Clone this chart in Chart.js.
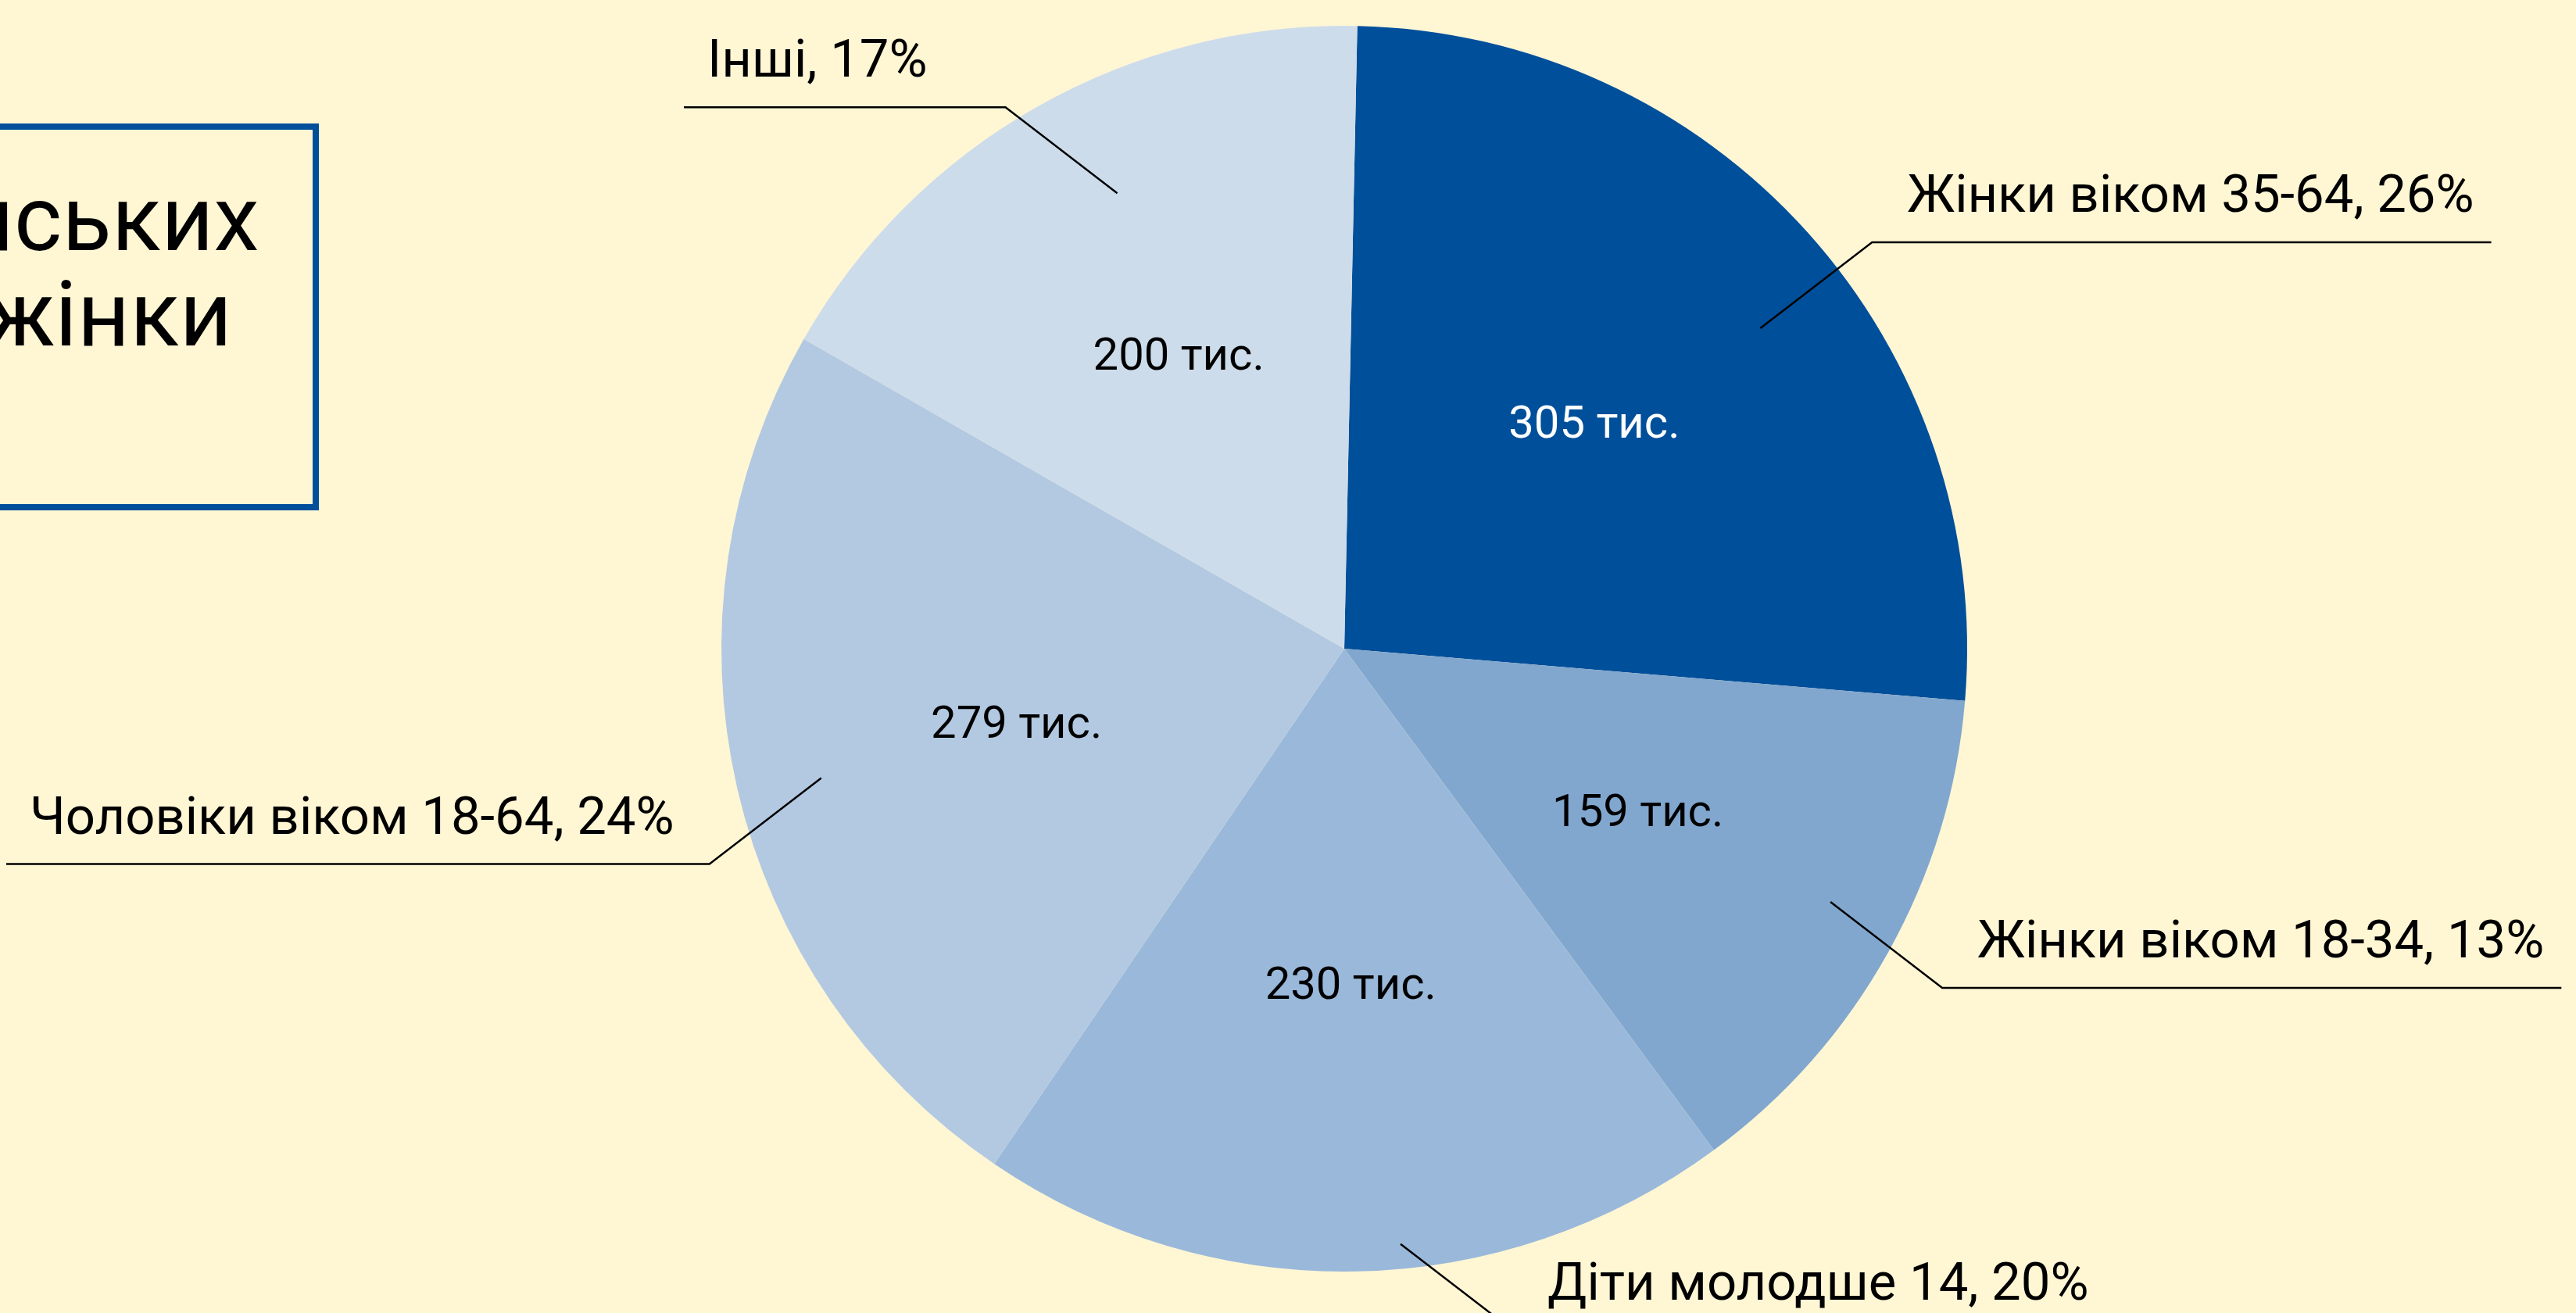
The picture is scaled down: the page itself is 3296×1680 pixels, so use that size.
<!DOCTYPE html>
<html lang="uk">

<head>
    <meta charset="UTF-8">
    <title>Біженці з України</title>
    <script src="https://cdn.jsdelivr.net/npm/chart.js"></script>
    <style>
        html, body { margin: 0; padding: 0; background: #FFF6D4; overflow: hidden; }
        #wrap { position: relative; width: 3296px; height: 1680px; }
        #titleBox {
            position: absolute; left: -700px; top: 158px;
            width: 1108px; height: 495px; box-sizing: border-box;
            border: 8px solid #004F9B; padding-top: 53px;
            font-family: Roboto, sans-serif; font-size: 117px; line-height: 122px; color: #000;
            white-space: nowrap;
        }
        #titleBox div { text-align: right; }
    </style>
</head>

<body>
<div id="wrap">
    <canvas id="pieChart" width="3296" height="1680"></canvas>
    <div id="titleBox">
        <div style="padding-right:72px">Серед українських</div>
        <div style="padding-right:103px">біженців – жінки</div>
    </div>
</div>

<script>
    // data (clockwise from top)
    var groups = ['Жінки віком 35-64', 'Жінки віком 18-34', 'Діти молодше 14', 'Чоловіки віком 18-64', 'Інші'];
    var thousands = [305, 159, 230, 279, 200];
    var shares = [26, 13, 20, 24, 17];

    var sliceColors = ['#004F9B', '#81A7CF', '#9AB9DA', '#B3C9E2', '#CDDCEB'];
    var valueColors = ['#FFFFFF', '#000000', '#000000', '#000000', '#000000'];
    // leader line start: fraction of radius, angle nudge in degrees
    var leaderRadius = [0.843, 0.88, 0.96, 0.865, 0.817];
    var leaderNudge = [4.4, -1.7, -4.3, -0.9, 3.0];

    var labelPlugin = {
        id: 'pieLabels',
        afterDatasetsDraw: function (chart) {
            var ctx = chart.ctx;
            var arcs = chart.getDatasetMeta(0).data;
            ctx.save();
            arcs.forEach(function (arc, i) {
                var p = arc.getProps(['x', 'y', 'startAngle', 'endAngle', 'outerRadius'], true);
                var mid = (p.startAngle + p.endAngle) / 2;

                // value inside the slice
                var r1 = p.outerRadius * 0.54;
                ctx.font = '58px Roboto';
                ctx.fillStyle = valueColors[i];
                ctx.textAlign = 'center';
                ctx.textBaseline = 'middle';
                ctx.fillText(thousands[i] + ' тис.', p.x + r1 * Math.cos(mid), p.y + r1 * Math.sin(mid) + 3);

                // leader line and outside label
                var a = mid + leaderNudge[i] * Math.PI / 180;
                var r2 = p.outerRadius * leaderRadius[i];
                var sx = p.x + r2 * Math.cos(a);
                var sy = p.y + r2 * Math.sin(a);
                var right = Math.cos(mid) >= 0;
                var down = Math.sin(mid) >= 0;
                var ex = sx + (right ? 143 : -143);
                var ey = sy + (down ? 110 : -110);

                var text = groups[i] + ', ' + shares[i] + '%';
                ctx.font = '67px Roboto';
                var w = ctx.measureText(text).width;
                var tx, lineEnd;
                if (right) {
                    tx = ex + 45;
                    lineEnd = tx + w + 22;
                } else {
                    tx = Math.max(ex - 100 - w, 38);
                    lineEnd = tx - 30;
                }

                ctx.strokeStyle = '#000';
                ctx.lineWidth = 2.5;
                ctx.beginPath();
                ctx.moveTo(sx, sy);
                ctx.lineTo(ex, ey);
                ctx.lineTo(lineEnd, ey);
                ctx.stroke();

                ctx.fillStyle = '#000';
                ctx.textAlign = 'left';
                ctx.textBaseline = 'alphabetic';
                ctx.fillText(text, tx, ey - 39);
            });
            ctx.restore();
        }
    };

    var ctx = document.getElementById('pieChart').getContext('2d');
    var myChart = new Chart(ctx, {
        type: 'pie',
        data: {
            labels: groups,
            datasets: [{
                data: thousands,
                backgroundColor: sliceColors,
                borderWidth: 0
            }]
        },
        options: {
            responsive: false,
            animation: false,
            rotation: 1.2,
            layout: { padding: { left: 923, right: 779, top: 33, bottom: 53 } },
            plugins: {
                legend: { display: false },
                tooltip: { enabled: false }
            }
        },
        plugins: [labelPlugin]
    });
</script>

</body>

</html>
